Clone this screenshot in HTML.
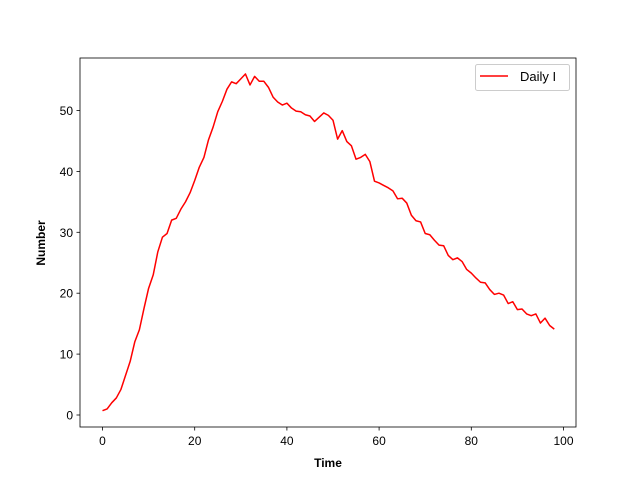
<!DOCTYPE html>
<html><head><meta charset="utf-8"><style>
body{margin:0;background:#fff}
svg{display:block;font-family:"Liberation Sans","DejaVu Sans",sans-serif}
</style></head><body>
<svg id="chart" width="640" height="480">
<rect width="640" height="480" fill="#fff"/>
<g id="ticks"></g>
<path id="line" fill="none" stroke="#ff0000" stroke-width="1.5" stroke-linejoin="round"/>
<rect x="80" y="58" width="496" height="369" fill="none" stroke="#000" stroke-width="0.8"/>
<text x="328" y="467" text-anchor="middle" font-size="12" font-weight="bold">Time</text>
<text x="0" y="0" transform="translate(45,243) rotate(-90)" text-anchor="middle" font-size="12" font-weight="bold">Number</text>
<g>
<rect x="475.5" y="64.5" width="94" height="26" rx="2" fill="#fff" stroke="#ccc"/>
<line x1="480" y1="76" x2="508" y2="76" stroke="#ff0000" stroke-width="1.5"/>
<text x="520" y="81" font-size="13">Daily I</text>
</g>
</svg>
<script>
const days = Array.from({length:99},(_,i)=>i);
const dailyI = [0.7,1.0,2,2.8,4.2,6.5,8.8,12,14,17.5,20.8,23,26.8,29.2,29.8,32,32.3,33.8,35,36.5,38.5,40.7,42.3,45.2,47.3,49.8,51.5,53.5,54.7,54.4,55.2,56,54.2,55.6,54.8,54.8,53.8,52.2,51.4,50.9,51.2,50.4,49.9,49.8,49.3,49.1,48.2,48.9,49.6,49.2,48.4,45.3,46.7,44.9,44.2,42,42.3,42.8,41.6,38.4,38.1,37.7,37.3,36.8,35.5,35.6,34.8,32.8,31.9,31.7,29.8,29.6,28.7,27.9,27.8,26.2,25.5,25.8,25.2,23.9,23.3,22.5,21.8,21.7,20.6,19.8,20.0,19.7,18.3,18.6,17.3,17.4,16.6,16.3,16.6,15.1,15.9,14.7,14.1];
const xTicks = [0,20,40,60,80,100];
const yTicks = [0,10,20,30,40,50];
const xs = v => 102.5 + v*4.61;
const ys = v => 415 - v*6.09;
const NS='http://www.w3.org/2000/svg';
const line=document.getElementById('line');
line.setAttribute('d', days.map((d,i)=>(i?'L':'M')+xs(d).toFixed(2)+','+ys(dailyI[i]).toFixed(2)).join(''));
const g=document.getElementById('ticks');
xTicks.forEach(t=>{
  const l=document.createElementNS(NS,'line');
  l.setAttribute('x1',xs(t));l.setAttribute('x2',xs(t));l.setAttribute('y1',427);l.setAttribute('y2',430.5);l.setAttribute('stroke','#000');l.setAttribute('stroke-width','0.8');
  
  
  g.appendChild(l);
  const tx=document.createElementNS(NS,'text');
  tx.setAttribute('x',xs(t));tx.setAttribute('y',445);tx.setAttribute('text-anchor','middle');tx.setAttribute('font-size','12');tx.textContent=t;
  
  
  g.appendChild(tx);
});
yTicks.forEach(t=>{
  const l=document.createElementNS(NS,'line');
  l.setAttribute('x1',76.5);l.setAttribute('x2',80);l.setAttribute('y1',ys(t));l.setAttribute('y2',ys(t));l.setAttribute('stroke','#000');l.setAttribute('stroke-width','0.8');
  
  
  g.appendChild(l);
  const tx=document.createElementNS(NS,'text');
  tx.setAttribute('x',73);tx.setAttribute('y',ys(t)+4.5);tx.setAttribute('text-anchor','end');tx.setAttribute('font-size','12');tx.textContent=t;
  
  
  g.appendChild(tx);
});
</script>
</body></html>
